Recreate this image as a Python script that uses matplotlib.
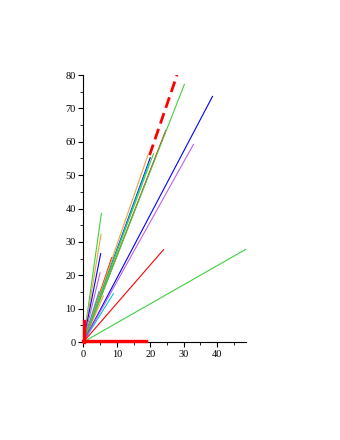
import matplotlib
matplotlib.use("Agg")
from matplotlib import pyplot as plt
from matplotlib.ticker import MultipleLocator

# colours (Maple-like)
RED = '#FF0000'
GREEN = '#40D040'
BLUE = '#0000FF'
VIOLET = '#C060E8'
ORANGE = '#E8A830'
CYAN = '#00C8E8'

# segments from the origin: end x, end y, colour
end_x = [5.4, 5.3, 5.2, 5.0, 4.7, 6.0, 9.0, 8.5,
         20.0, 19.3, 19.6, 24.6, 30.2, 21.0,
         38.6, 32.9, 24.0, 48.6]
end_y = [38.5, 32.3, 26.5, 20.7, 15.2, 13.8, 14.5, 25.3,
         55.2, 56.0, 53.5, 63.3, 77.2, 56.5,
         73.6, 59.2, 27.7, 27.8]
colors = [GREEN, ORANGE, BLUE, VIOLET, CYAN, ORANGE, CYAN, RED,
          BLUE, ORANGE, CYAN, RED, GREEN, GREEN,
          BLUE, VIOLET, RED, GREEN]

# dashed thick segment (start, end)
dash_x = [19.8, 28.0]
dash_y = [56.0, 80.0]
# thick red lines along the axes
x_bar = 18.8
y_bar = 6.3

plt.rcParams['font.family'] = ['Liberation Serif', 'DejaVu Serif']

fig = plt.figure(figsize=(3.4, 4.4), dpi=100)
ax = fig.add_axes([0.245, 0.2227, 0.4785, 0.6068])

ax.plot(dash_x, dash_y, color=RED, linewidth=2.0,
        linestyle=(0, (4, 2)), zorder=1)

for xe, ye, c in zip(end_x, end_y, colors):
    ax.plot([0, xe], [0, ye], color=c, linewidth=0.8, zorder=2)

ax.plot([0, x_bar], [0.3, 0.3], color=RED, linewidth=2.4, zorder=3, clip_on=False)
ax.plot([0.3, 0.3], [0, y_bar], color=RED, linewidth=2.4, zorder=3, clip_on=False)

ax.set_xlim(0, 48.6)
ax.set_ylim(0, 80)

for s in ['top', 'right']:
    ax.spines[s].set_visible(False)
for s in ['left', 'bottom']:
    ax.spines[s].set_linewidth(0.8)

ax.xaxis.set_major_locator(MultipleLocator(10))
ax.xaxis.set_minor_locator(MultipleLocator(5))
ax.yaxis.set_major_locator(MultipleLocator(10))
ax.yaxis.set_minor_locator(MultipleLocator(5))
ax.tick_params(which='major', length=3.5, width=0.8, labelsize=7.5, pad=2)
ax.tick_params(which='minor', length=2, width=0.6)

fig.savefig('out.png', dpi=100)
